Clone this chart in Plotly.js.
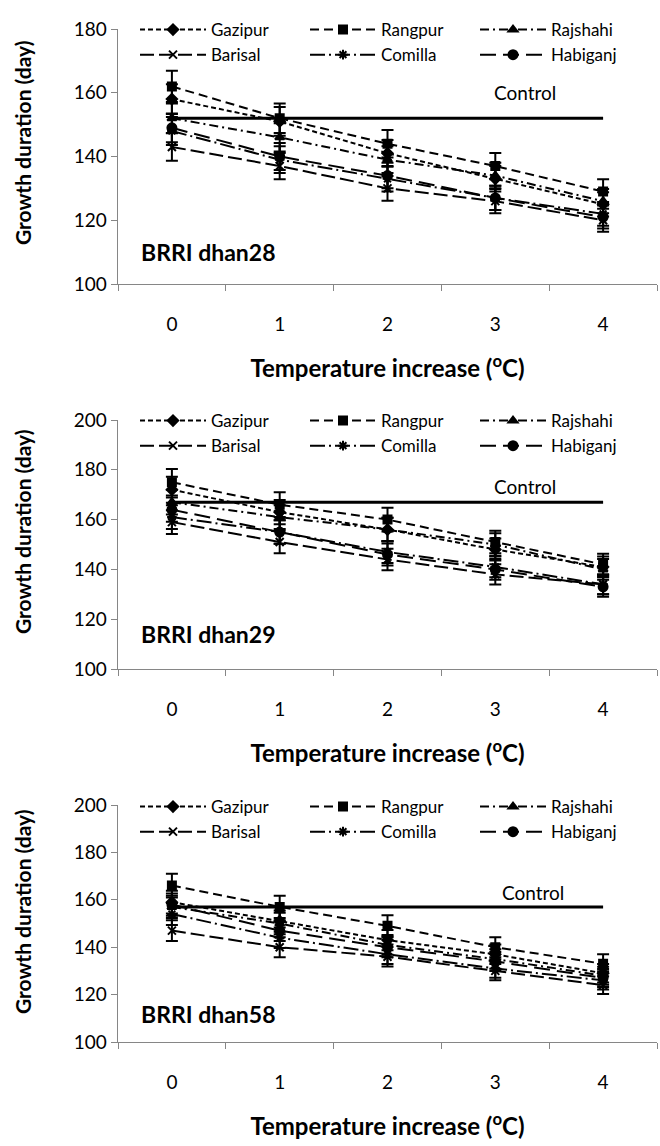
<!DOCTYPE html>
<html><head><meta charset="utf-8">
<script src="https://cdn.plot.ly/plotly-3.0.1.min.js"></script>
<style>html,body{margin:0;padding:0;background:#fff}#chart{width:660px;height:1146px}</style>
</head><body><div id="chart"></div>
<script>
// ---------- DATA ----------
const categories = ['0', '1', '2', '3', '4'];           // temperature increase (oC)
const locations = ['Gazipur', 'Rangpur', 'Rajshahi', 'Barisal', 'Comilla', 'Habiganj'];
const varieties = ['BRRI dhan28', 'BRRI dhan29', 'BRRI dhan58'];
const controlDuration = [152, 167, 157];                 // control growth duration per variety
const yTickLabels = [['100','120','140','160','180'], ['100','120','140','160','180','200'], ['100','120','140','160','180','200']];

// BRRI dhan28
const gazipur28  = [158, 151, 141, 133, 125];
const rangpur28  = [162, 152, 144, 137, 129];
const rajshahi28 = [152, 146, 139, 134, 126];
const barisal28  = [143, 137, 130, 126, 120];
const comilla28  = [148, 139, 133, 127, 122];
const habiganj28 = [149, 140, 134, 127, 121];
// BRRI dhan29
const gazipur29  = [172, 163, 156, 148, 141];
const rangpur29  = [175, 166, 160, 151, 142];
const rajshahi29 = [167, 161, 156, 150, 140];
const barisal29  = [159, 151, 144, 138, 134];
const comilla29  = [161, 155, 147, 141, 134];
const habiganj29 = [164, 155, 146, 140, 133];
// BRRI dhan58
const gazipur58  = [159, 151, 143, 137, 129];
const rangpur58  = [166, 157, 149, 140, 133];
const rajshahi58 = [157, 150, 141, 135, 128];
const barisal58  = [147, 140, 136, 130, 124];
const comilla58  = [154, 144, 137, 131, 126];
const habiganj58 = [158, 147, 140, 134, 127];

// error bars (days)
const errGazipur28  = [4.7, 4.5, 4.2, 4.0, 3.8];
const errRangpur28  = [4.9, 4.6, 4.3, 4.1, 3.9];
const errRajshahi28 = [4.6, 4.4, 4.2, 4.0, 3.8];
const errBarisal28  = [4.3, 4.1, 3.9, 3.8, 3.6];
const errComilla28  = [4.4, 4.2, 4.0, 3.8, 3.7];
const errHabiganj28 = [4.5, 4.2, 4.0, 3.8, 3.6];
const errGazipur29  = [5.2, 4.9, 4.7, 4.4, 4.2];
const errRangpur29  = [5.3, 5.0, 4.8, 4.5, 4.3];
const errRajshahi29 = [5.0, 4.8, 4.7, 4.5, 4.2];
const errBarisal29  = [4.8, 4.5, 4.3, 4.1, 4.0];
const errComilla29  = [4.8, 4.7, 4.4, 4.2, 4.0];
const errHabiganj29 = [4.9, 4.7, 4.4, 4.2, 4.0];
const errGazipur58  = [4.8, 4.5, 4.3, 4.1, 3.9];
const errRangpur58  = [5.0, 4.7, 4.5, 4.2, 4.0];
const errRajshahi58 = [4.7, 4.5, 4.2, 4.1, 3.8];
const errBarisal58  = [4.4, 4.2, 4.1, 3.9, 3.7];
const errComilla58  = [4.6, 4.3, 4.1, 3.9, 3.8];
const errHabiganj58 = [4.7, 4.4, 4.2, 4.0, 3.8];

const panelValues = [
  [gazipur28, rangpur28, rajshahi28, barisal28, comilla28, habiganj28],
  [gazipur29, rangpur29, rajshahi29, barisal29, comilla29, habiganj29],
  [gazipur58, rangpur58, rajshahi58, barisal58, comilla58, habiganj58]
];
const panelErrors = [
  [errGazipur28, errRangpur28, errRajshahi28, errBarisal28, errComilla28, errHabiganj28],
  [errGazipur29, errRangpur29, errRajshahi29, errBarisal29, errComilla29, errHabiganj29],
  [errGazipur58, errRangpur58, errRajshahi58, errBarisal58, errComilla58, errHabiganj58]
];

// ---------- STYLE ----------
const FONT = 'Lato, "Open Sans", sans-serif';
const W = 660, H = 1146;
const lineStyles = [
  {dash: '5px,3px',              symbol: 'diamond',         size: 8},
  {dash: '9px,5px',              symbol: 'square',          size: 8},
  {dash: '9px,4px,2px,4px',      symbol: 'triangle-up',     size: 8},
  {dash: '14px,5px',             symbol: 'x-thin-open',     size: 8},
  {dash: '15px,4px,2px,4px',     symbol: 'asterisk-open',   size: 8},
  {dash: '16px,7px',             symbol: 'circle',          size: 9}
];
const plotTB = [[29, 284], [420, 669], [805, 1042]];
const plotLR = [118, 657];
const yRanges = [[100, 180], [100, 200], [100, 200]];
const legendTop = [12, 403, 789];
const labelY = [252, 634, 1014];
const yTitleY = [143, 532, 912];
const controlShift = [26, 16, 14];
const controlX = [3.28, 3.28, 3.35];

const traces = [];
const layout = {
  width: W, height: H,
  margin: {l: 0, r: 0, t: 0, b: 0},
  paper_bgcolor: '#fff', plot_bgcolor: '#fff',
  font: {family: FONT, color: '#000', size: 16},
  showlegend: true,
  annotations: []
};

for (let p = 0; p < 3; p++) {
  const sfx = p === 0 ? '' : String(p + 1);
  const xa = 'x' + sfx, ya = 'y' + sfx, lg = 'legend' + sfx;
  traces.push({
    x: categories, y: categories.map(() => controlDuration[p]),
    xaxis: xa, yaxis: ya, mode: 'lines', showlegend: false, hoverinfo: 'skip',
    line: {color: '#000', width: 3}
  });
  locations.forEach((loc, i) => {
    const st = lineStyles[i];
    traces.push({
      x: categories, y: panelValues[p][i], name: loc,
      xaxis: xa, yaxis: ya, legend: lg,
      mode: 'lines+markers',
      line: {color: '#000', width: 2, dash: st.dash},
      marker: {symbol: st.symbol, size: st.size, color: '#000', line: {color: '#000', width: 2}},
      error_y: {type: 'data', array: panelErrors[p][i], visible: true, color: '#000', thickness: 2, width: 6}
    });
  });
  const top = plotTB[p][0], bot = plotTB[p][1];
  layout['xaxis' + sfx] = {
    domain: [plotLR[0] / W, plotLR[1] / W], anchor: ya,
    type: 'category', range: [-0.5, 4.5], tickson: 'boundaries',
    ticks: 'outside', ticklen: 6, tickcolor: '#868686', tickwidth: 1,
    showline: true, linecolor: '#868686', linewidth: 1.3,
    showgrid: false, zeroline: false,
    tickfont: {size: 19, family: FONT}, ticklabelstandoff: 23,
    title: {text: '<b>Temperature increase (<sup>o</sup>C)</b>', font: {size: 24, family: FONT}, standoff: 26}
  };
  layout['yaxis' + sfx] = {
    domain: [(H - bot) / H, (H - top) / H], anchor: xa,
    range: yRanges[p], tickmode: 'array',
    tickvals: yTickLabels[p].map(Number), ticktext: yTickLabels[p],
    ticks: 'outside', ticklen: 6, tickcolor: '#868686', tickwidth: 1,
    showline: true, linecolor: '#868686', linewidth: 1.3,
    showgrid: false, zeroline: false,
    tickfont: {size: 19, family: FONT}
  };
  layout[lg] = {
    orientation: 'h', xref: 'paper', yref: 'paper',
    x: 135 / W, xanchor: 'left', y: (H - legendTop[p]) / H, yanchor: 'top',
    entrywidth: 89, entrywidthmode: 'pixels', itemwidth: 66,
    font: {size: 17, family: FONT}, bgcolor: 'rgba(0,0,0,0)', borderwidth: 0,
    traceorder: 'normal'
  };
  layout.annotations.push({
    xref: xa, yref: ya, x: controlX[p], y: controlDuration[p], yshift: controlShift[p],
    text: 'Control', showarrow: false, font: {size: 19, family: FONT}, yanchor: 'middle'
  });
  layout.annotations.push({
    xref: 'paper', yref: 'paper', x: 139 / W, xanchor: 'left',
    y: (H - labelY[p]) / H, yanchor: 'middle',
    text: '<b>' + varieties[p] + '</b>', showarrow: false, font: {size: 23, family: FONT}
  });
  layout.annotations.push({
    xref: 'paper', yref: 'paper', x: 22 / W, xanchor: 'center',
    y: (H - yTitleY[p]) / H, yanchor: 'middle', textangle: -90,
    text: '<b>Growth duration (day)</b>', showarrow: false, font: {size: 21, family: FONT}
  });
}

Plotly.newPlot('chart', traces, layout, {staticPlot: true, displayModeBar: false});
</script>
</body></html>
